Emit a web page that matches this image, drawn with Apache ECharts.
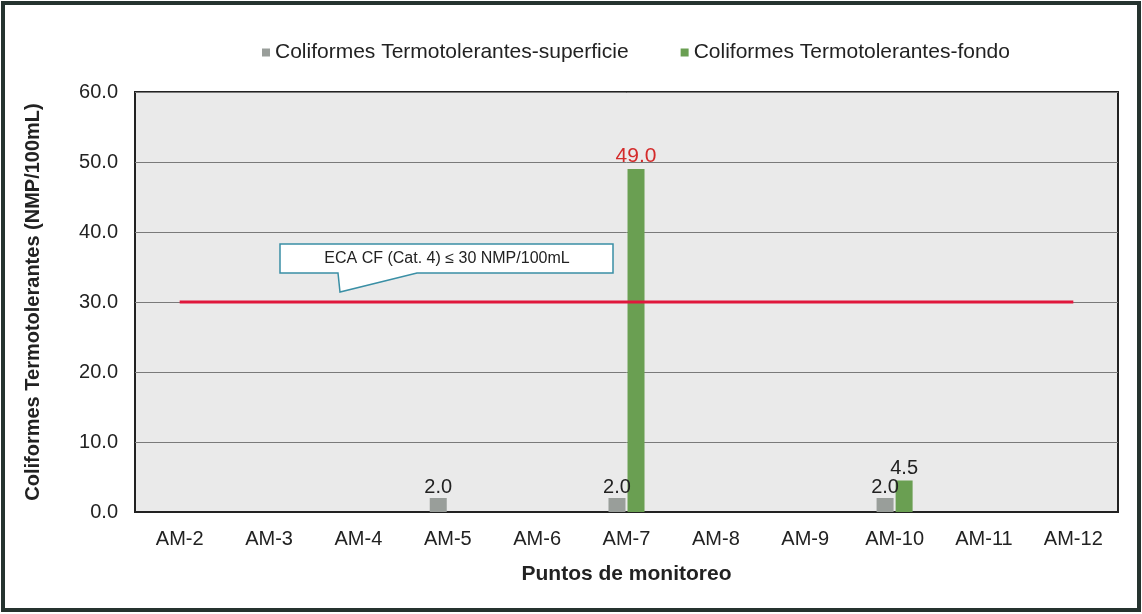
<!DOCTYPE html>
<html>
<head>
<meta charset="utf-8">
<script src="https://cdn.jsdelivr.net/npm/echarts@6/dist/echarts.min.js"></script>
<style>
html,body{margin:0;padding:0;background:#fff;}
#c{width:1142px;height:614px;}
</style>
</head>
<body>
<div id="c"></div>
<script>
const categories = ['AM-2','AM-3','AM-4','AM-5','AM-6','AM-7','AM-8','AM-9','AM-10','AM-11','AM-12'];
const superficie = [null,null,null,2.0,null,2.0,null,null,2.0,null,null];
const fondo = [null,null,null,null,null,49.0,null,null,4.5,null,null];
const eca = [30,30,30,30,30,30,30,30,30,30,30];
const yTicks = [0,10,20,30,40,50,60];
const ecaLabel = 'ECA CF (Cat. 4) ≤ 30 NMP/100mL';

const chart = echarts.init(document.getElementById('c'), null, {renderer:'canvas'});
const font = 'Liberation Sans, Arial, sans-serif';
chart.setOption({
  animation:false,
  backgroundColor:'#ffffff',
  textStyle:{fontFamily:font},
  legend:{
    top:37, left:257, itemGap:52, itemWidth:8, itemHeight:8,
    icon:'rect',
    textStyle:{fontSize:21, color:'#222', fontFamily:font},
    data:['Coliformes Termotolerantes-superficie','Coliformes Termotolerantes-fondo']
  },
  grid:{left:135, right:24, top:92, bottom:102, show:true, backgroundColor:'#eaeaea', borderColor:'#222', borderWidth:2},
  xAxis:{
    type:'category', data:categories,
    axisLine:{show:true, lineStyle:{color:'#222', width:2}},
    axisTick:{show:false},
    axisLabel:{fontSize:20, color:'#222', margin:17, fontFamily:font},
    name:'Puntos de monitoreo', nameLocation:'middle', nameGap:52,
    nameTextStyle:{fontSize:21, fontWeight:'bold', color:'#222', fontFamily:font}
  },
  yAxis:{
    type:'value', min:yTicks[0], max:yTicks[yTicks.length-1], interval:10,
    axisLine:{show:false}, axisTick:{show:false},
    splitLine:{lineStyle:{color:'#7a7a7a', width:1}},
    axisLabel:{fontSize:20, color:'#222', margin:17, formatter:v=>v.toFixed(1), fontFamily:font},
    name:'Coliformes Termotolerantes (NMP/100mL)', nameLocation:'middle', nameGap:92, nameRotate:90,
    nameTextStyle:{fontSize:20, fontWeight:'bold', color:'#222', fontFamily:font}
  },
  series:[
    {
      name:'Coliformes Termotolerantes-superficie', type:'bar', data:superficie,
      barWidth:17, barGap:'12%',
      itemStyle:{color:'#999e9a'},
      label:{show:true, position:'top', distance:1, fontSize:20, color:'#222', formatter:p=>p.value.toFixed(1)}
    },
    {
      name:'Coliformes Termotolerantes-fondo', type:'bar', data:fondo,
      barWidth:17,
      itemStyle:{color:'#6a9f52'},
      label:{show:true, position:'top', distance:2, fontSize:20, color:'#222',
        formatter:p=>p.value>eca[p.dataIndex]?'{r|'+p.value.toFixed(1)+'}':p.value.toFixed(1),
        rich:{r:{color:'#d42a2a', fontSize:21, fontFamily:font}}}
    },
    {
      name:'ECA', type:'line', data:eca, symbol:'none', z:5,
      lineStyle:{color:'#e0173c', width:3},
      silent:true
    }
  ],
  graphic:[
    {type:'rect', shape:{x:3, y:3, width:1136, height:607}, style:{fill:'none', stroke:'#25332f', lineWidth:4}, z:100},
    {type:'polygon', shape:{points:[[280,244],[613,244],[613,273],[417,273],[340,292],[338,273],[280,273]]},
      style:{fill:'#ffffff', stroke:'#3a8fa5', lineWidth:1.5}, z:50},
    {type:'text', x:447, y:259, style:{text:ecaLabel, font:'16px '+font, fill:'#222', textAlign:'center', textVerticalAlign:'middle'}, z:51}
  ]
});
</script>
</body>
</html>
